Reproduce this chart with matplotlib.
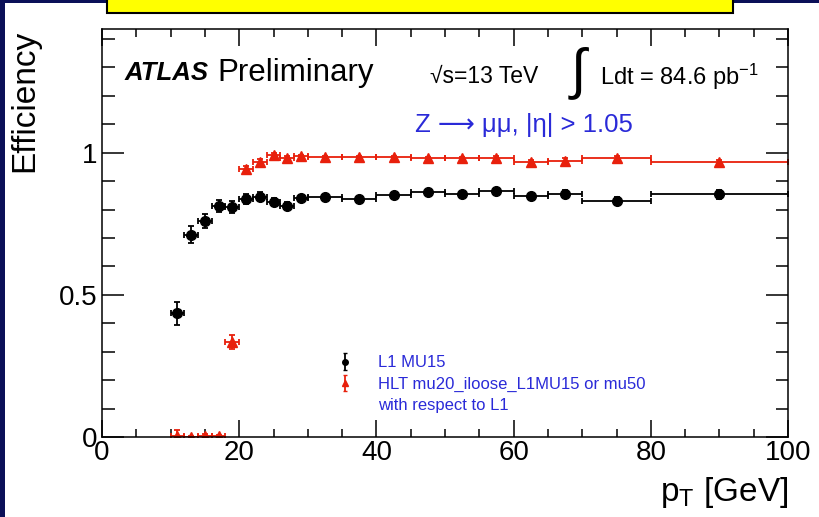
import numpy as np
import matplotlib
matplotlib.use("Agg")
import matplotlib.pyplot as plt
from matplotlib.patches import Rectangle
from matplotlib.ticker import MultipleLocator

plt.rcParams['font.family'] = ['Liberation Sans', 'DejaVu Sans']
plt.rcParams['mathtext.fontset'] = 'custom'
plt.rcParams['mathtext.rm'] = 'Liberation Sans'
plt.rcParams['mathtext.it'] = 'Liberation Sans:italic'

# pT binning [GeV]
bin_edges = [10, 12, 14, 16, 18, 20, 22, 24, 26, 28, 30, 35, 40, 45, 50, 55, 60, 65, 70, 80, 100]

# L1 MU15 efficiency
l1_eff = [0.435, 0.711, 0.760, 0.813, 0.809, 0.836, 0.845, 0.827, 0.814, 0.842,
          0.843, 0.836, 0.850, 0.861, 0.855, 0.866, 0.846, 0.856, 0.830, 0.853]
l1_err = [0.040, 0.030, 0.025, 0.022, 0.020, 0.017, 0.015, 0.013, 0.012, 0.010,
          0.008, 0.007, 0.007, 0.007, 0.008, 0.008, 0.010, 0.012, 0.015, 0.015]

# HLT efficiency w.r.t. L1
hlt_eff = [0.005, 0.000, 0.005, 0.003, 0.334, 0.943, 0.968, 0.991, 0.980, 0.987,
           0.985, 0.985, 0.985, 0.982, 0.981, 0.983, 0.968, 0.972, 0.980, 0.968]
hlt_err = [0.020, 0.005, 0.005, 0.005, 0.025, 0.010, 0.010, 0.008, 0.008, 0.006,
           0.005, 0.004, 0.004, 0.004, 0.005, 0.005, 0.006, 0.008, 0.008, 0.008]

edges = np.array(bin_edges, dtype=float)
pt = 0.5 * (edges[1:] + edges[:-1])
pt_err = 0.5 * (edges[1:] - edges[:-1])

W, H = 819, 517
BLUE = '#2a2ad8'
RED = '#e8200c'


def fx(x):
    return x / W


def fy(y):
    return 1 - y / H


fig = plt.figure(figsize=(W / 100, H / 100), dpi=100)
fig.patch.set_facecolor('#0b1058')
fig.patches.append(Rectangle((fx(5), 0), 1 - fx(5), fy(3), transform=fig.transFigure,
                             facecolor='white', edgecolor='none', zorder=-10))
# title box on top
fig.patches.append(Rectangle((fx(107), fy(13)), fx(733) - fx(107), fy(-5) - fy(13),
                             transform=fig.transFigure, facecolor='#ffff00',
                             edgecolor='black', linewidth=1.5, zorder=-5))

ax = fig.add_axes([fx(102), fy(437), fx(788) - fx(102), fy(29) - fy(437)])
ax.set_xlim(0, 100)
ax.set_ylim(0, 1.435)

ax.errorbar(pt, l1_eff, xerr=pt_err, yerr=l1_err, fmt='o', color='black',
            markersize=7, elinewidth=1.3, capsize=2, capthick=1.3)
ax.errorbar(pt, hlt_eff, xerr=pt_err, yerr=hlt_err, fmt='^', color=RED,
            markersize=7, elinewidth=1.3, capsize=2, capthick=1.3)

# legend entries only show the vertical bar
nan = [np.nan]
l1_key = ax.errorbar(nan, nan, yerr=[0.1], fmt='o', color='black', markersize=4,
                     elinewidth=1.3, capsize=1.5)
hlt_key = ax.errorbar(nan, nan, yerr=[0.1], fmt='^', color=RED, markersize=4,
                      elinewidth=1.3, capsize=1.5)

ax.xaxis.set_major_locator(MultipleLocator(20))
ax.xaxis.set_minor_locator(MultipleLocator(5))
ax.yaxis.set_minor_locator(MultipleLocator(0.1))
ax.set_yticks([0, 0.5, 1])
ax.set_yticklabels(['0', '0.5', '1'])
ax.tick_params(which='both', direction='in', top=True, right=True, width=1.1,
               labelsize=20)
ax.tick_params(axis='y', which='major', length=16)
ax.tick_params(axis='y', which='minor', length=9)
ax.tick_params(axis='x', which='major', length=12)
ax.tick_params(axis='x', which='minor', length=6)
ax.tick_params(axis='x', pad=2)
for s in ax.spines.values():
    s.set_linewidth(1.1)

fig.text(fx(25), fy(30), 'Efficiency', rotation=90, ha='center', va='top', fontsize=24)
fig.text(fx(788), fy(492), r'p$_{\mathregular{T}}$ [GeV]', ha='right', va='center',
         fontsize=24)

fig.text(fx(125), fy(73), 'ATLAS', fontsize=18.5, fontweight='bold', fontstyle='italic',
         va='center')
fig.text(fx(217), fy(73), 'Preliminary', fontsize=22.5, va='center')
fig.text(fx(430), fy(76), '\u221as=13 TeV', fontsize=16.5, va='center')
fig.text(fx(571), fy(73), '\u222b', fontsize=40, va='center')
fig.text(fx(600), fy(77), r'Ldt = 84.6 pb$^{\mathregular{-1}}$', fontsize=17, va='center')
fig.text(fx(415), fy(125), 'Z \u27f6 \u03bc\u03bc, |\u03b7| > 1.05', fontsize=18.5,
         color=BLUE, va='center')

blank = Rectangle((0, 0), 1, 1, fill=False, edgecolor='none', visible=False)
ax.legend([l1_key, hlt_key, blank],
          ['L1 MU15', 'HLT mu20_iloose_L1MU15 or mu50', 'with respect to L1'],
          loc='upper left', bbox_to_anchor=(fx(328), fy(347)),
          bbox_transform=fig.transFigure, frameon=False, fontsize=12,
          labelcolor=BLUE, handlelength=1.0, handletextpad=1.5,
          labelspacing=0.38, borderpad=0)

fig.savefig('out.png', dpi=100, facecolor=fig.get_facecolor())
